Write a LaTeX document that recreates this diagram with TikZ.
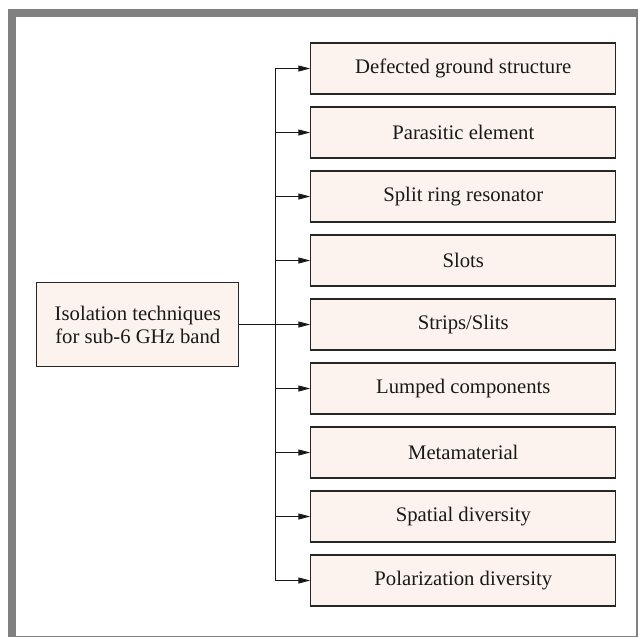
\documentclass[tikz,border=0pt]{standalone}
\usepackage{fontspec}
\setmainfont{Liberation Serif}
\usepackage{xcolor}
\usepackage{tikz}
\usetikzlibrary{positioning, arrows.meta, calc}
\definecolor{boxfill}{RGB}{253,243,238}
\definecolor{framegray}{RGB}{128,128,128}

\begin{document}
\begin{tikzpicture}[x=1pt, y=-1pt,
    techbox/.style={draw=black!85, line width=1.1pt, fill=boxfill, minimum width=305pt, minimum height=51pt, inner sep=0pt, font=\rmfamily\fontsize{20.7}{23}\selectfont, text=black!90},
    rootbox/.style={draw=black!85, line width=1.1pt, fill=boxfill, minimum width=202pt, minimum height=84pt, inner sep=0pt, align=center, font=\rmfamily\fontsize{20.7}{23}\selectfont, text=black!90},
    link/.style={line width=1pt, black!90},
    tip/.style={-{Triangle[length=12pt, width=6pt]}}]
    \useasboundingbox (0,0) rectangle (638,637);
    \draw[framegray, line width=8pt] (12,13) rectangle (640,640);
    % technique boxes on the right
    \foreach \name [count=\i from 0] in {Defected ground structure, Parasitic element, Split ring resonator, Slots, Strips/Slits, Lumped components, Metamaterial, Spatial diversity, Polarization diversity} {
        \node[techbox] (b\i) at (463.3, 68.5+64*\i) {\name};
        \coordinate (t\i) at (275, 68.5+64*\i);
    }
    \node[rootbox] (root) at (137.8, 324.5) {Isolation techniques\\for sub-6 GHz band};
    % connectors
    \draw[link] (t0) -- (t8);
    \draw[link] (root.east) -- (t4);
    \foreach \i in {0,...,8} { \draw[link, tip] (t\i) -- (b\i.west); }
\end{tikzpicture}
\end{document}
